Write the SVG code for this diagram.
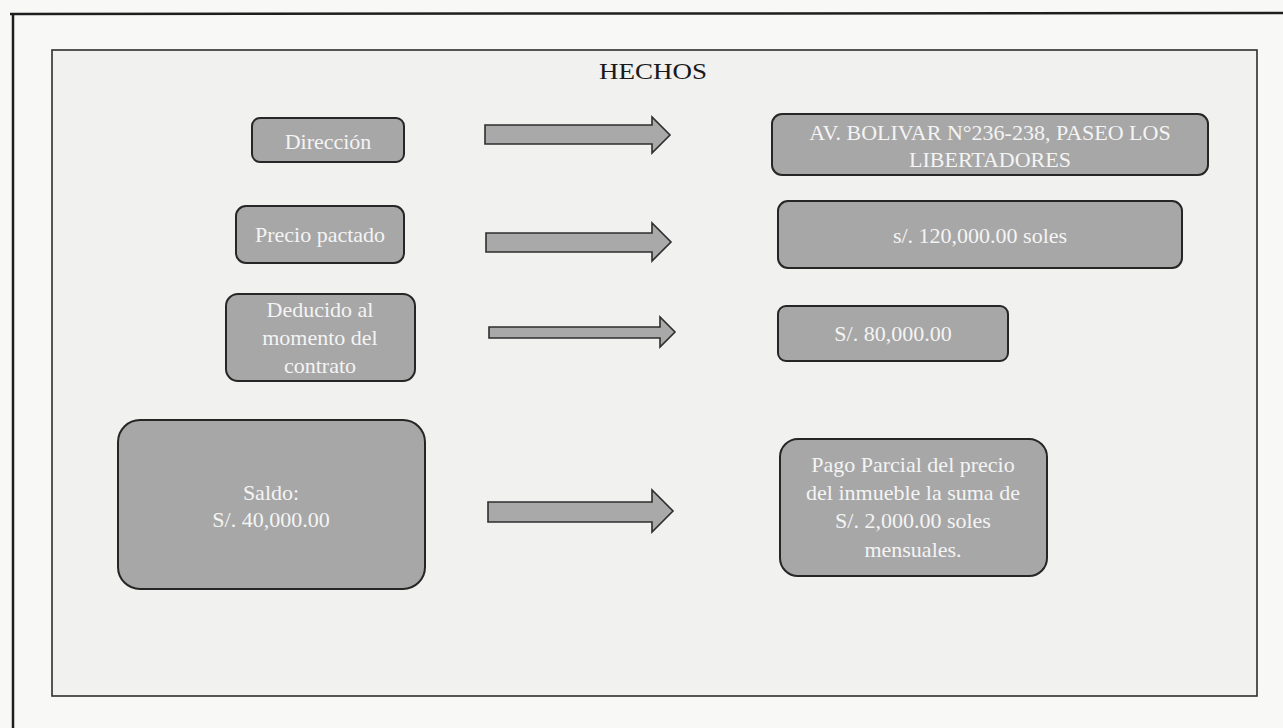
<svg xmlns="http://www.w3.org/2000/svg" width="1283" height="728" viewBox="0 0 1283 728">
<defs>
<style>
.bg{fill:#f8f8f7}
.panel{fill:#f1f1f0;stroke:#2e2e2e;stroke-width:1.6}
.box{fill:#a7a7a7;stroke:#262626;stroke-width:2}
.arrow{fill:#a9a9a9;stroke:#2e2e2e;stroke-width:1.6;stroke-linejoin:miter}
.t{font-family:"Liberation Serif","Times New Roman",serif;font-size:22px;fill:#f4f4f4;text-anchor:middle}
.title{font-family:"Liberation Serif","Times New Roman",serif;font-size:23px;fill:#1a1a1a;text-anchor:middle}
</style>
</defs>
<rect class="bg" x="0" y="0" width="1283" height="728"/>
<g id="frame">
<line x1="10" y1="14" x2="1283" y2="13" stroke="#1e1e1e" stroke-width="2.5"/>
<line x1="13" y1="13" x2="13" y2="728" stroke="#1e1e1e" stroke-width="2.5"/>
<rect class="panel" x="52" y="50" width="1205" height="646"/>
</g>
<g id="title">
<text class="title" x="653" y="79" textLength="108" lengthAdjust="spacingAndGlyphs">HECHOS</text>
</g>
<g id="connectors">
<path class="arrow" d="M485,125 H652 V117 L670,135 L652,153 V144 H485 Z"/>
<path class="arrow" d="M486,233 H652 V223 L671,242 L652,261 V252 H486 Z"/>
<path class="arrow" d="M489,327 H660 V317 L675,332 L660,347 V338 H489 Z"/>
<path class="arrow" d="M488,502 H652 V490 L673,511 L652,532 V522 H488 Z"/>
</g>
<g id="n-direccion">
<rect class="box" x="252" y="118" width="152" height="44" rx="8"/>
<text class="t" x="328" y="149">Dirección</text>
</g>
<g id="n-avbolivar">
<rect class="box" x="772" y="114" width="436" height="61" rx="10"/>
<text class="t" x="990" y="140">AV. BOLIVAR N°236-238, PASEO LOS</text>
<text class="t" x="990" y="167">LIBERTADORES</text>
</g>
<g id="n-precio">
<rect class="box" x="236" y="206" width="168" height="57" rx="10"/>
<text class="t" x="320" y="242">Precio pactado</text>
</g>
<g id="n-120000">
<rect class="box" x="778" y="201" width="404" height="67" rx="10"/>
<text class="t" x="980" y="243">s/. 120,000.00 soles</text>
</g>
<g id="n-deducido">
<rect class="box" x="226" y="294" width="189" height="87" rx="12"/>
<text class="t" x="320" y="317">Deducido al</text>
<text class="t" x="320" y="345">momento del</text>
<text class="t" x="320" y="373">contrato</text>
</g>
<g id="n-80000">
<rect class="box" x="778" y="306" width="230" height="55" rx="8"/>
<text class="t" x="893" y="341">S/. 80,000.00</text>
</g>
<g id="n-saldo">
<rect class="box" x="118" y="420" width="307" height="169" rx="22"/>
<text class="t" x="271" y="500">Saldo:</text>
<text class="t" x="271" y="527">S/. 40,000.00</text>
</g>
<g id="n-pago">
<rect class="box" x="780" y="439" width="267" height="137" rx="18"/>
<text class="t" x="913" y="472">Pago Parcial del precio</text>
<text class="t" x="913" y="500">del inmueble la suma de</text>
<text class="t" x="913" y="528">S/. 2,000.00 soles</text>
<text class="t" x="913" y="557">mensuales.</text>
</g>
</svg>
